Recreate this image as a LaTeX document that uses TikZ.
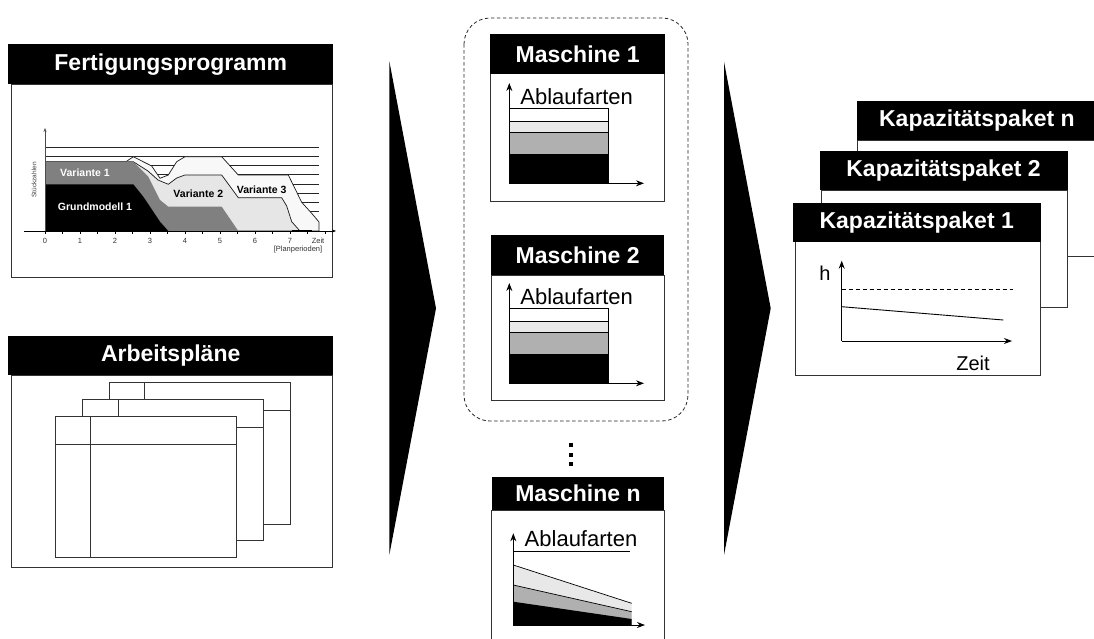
\documentclass[tikz,border=0pt]{standalone}
\usepackage{fontspec}
\setmainfont{Liberation Sans}
\usetikzlibrary{arrows.meta}
\definecolor{vgray}{HTML}{808080}
\definecolor{vlight}{HTML}{E6E6E6}
\definecolor{vpale}{HTML}{F8F8F8}
\definecolor{mlight}{HTML}{E8E8E8}
\definecolor{mgray}{HTML}{B0B0B0}
\definecolor{edge}{HTML}{333333}

% chart inside a machine card, shifted down by #1
\newcommand{\machchart}[1]{%
  \begin{scope}[shift={(0,#1)}]
    \fill[white] (509.3,108.3) rectangle (608.3,121.7);
    \fill[mlight] (509.3,121.7) rectangle (608.3,132.7);
    \fill[mgray] (509.3,132.7) rectangle (608.3,154);
    \fill[black] (509.3,154) rectangle (608.3,183.3);
    \draw[thinline] (509.3,108.3) rectangle (608.3,183.3);
    \draw[thinline] (509.3,121.7) -- (608.3,121.7);
    \draw[thinline] (509.3,132.7) -- (608.3,132.7);
    \draw[axis] (509.3,183.3) -- (509.3,83);
    \draw[axis] (509.3,183.3) -- (644,183.3);
    \node[lbl] (abl#1) at (576.7,97) {Ablaufarten};
  \end{scope}}

\begin{document}
\begin{tikzpicture}[x=1pt,y=-1pt,
  hdr/.style={fill=black,text=white,inner sep=0pt,anchor=north west,
    font=\bfseries\fontsize{23}{23}\selectfont},
  panel/.style={draw=edge,line width=0.9pt,fill=white},
  thinline/.style={draw=black,line width=0.7pt},
  axis/.style={draw=black,line width=0.9pt,-{Stealth[length=8pt,width=6pt]}},
  smallaxis/.style={draw=black!70,line width=0.7pt,-{Stealth[length=4pt,width=3pt]}},
  lbl/.style={inner sep=0pt,font=\fontsize{22}{22}\selectfont},
  chartlbl/.style={inner sep=0pt,font=\bfseries\fontsize{10.5}{10.5}\selectfont},
  ticklbl/.style={inner sep=0pt,font=\fontsize{7.5}{7.5}\selectfont,text=black!80},
  bigarrow/.style={fill=black}]
\useasboundingbox (0,0) rectangle (1094,638);
\clip (0,0) rectangle (1094,638);

% ---------------- Fertigungsprogramm ----------------
\draw[panel] (11,84) rectangle (332,277);
\node[hdr,minimum width=325pt,minimum height=40pt] (fp) at (8,44) {Fertigungsprogramm};

% grid lines
\foreach \yy in {147.3,156.7,165.7,174.7,184,193,202.3,211.3}
  \draw[line width=0.6pt,black!85] (46,\yy) -- (319,\yy);

% Variante 3
\filldraw[fill=vpale,draw=black!90,line width=0.7pt]
  (46,231) -- (46,161.7) -- (126,161.7) -- (133.3,156.7) -- (151.7,166)
  -- (160,178.3) -- (168.3,175) -- (176.7,161.7) -- (185,156.7)
  -- (221.7,156.7) -- (238.3,175) -- (288.3,175) -- (301.7,202.3)
  -- (311.7,213.3) -- (319,222) -- (319,231) -- cycle;
% Variante 2
\filldraw[fill=vlight,draw=black!90,line width=0.7pt]
  (46,231) -- (46,161.7) -- (133.3,161.7) -- (148,171) -- (158,180)
  -- (168.3,184.3) -- (176.7,178) -- (185,175) -- (221.7,175)
  -- (238.3,197.7) -- (281.7,197.7) -- (286.7,206) -- (291.7,221.7)
  -- (300,231) -- cycle;
% Variante 1
\fill[vgray]
  (46,231) -- (46,161.7) -- (133.3,161.7) -- (148.3,176.7) -- (160,200)
  -- (168.3,206.7) -- (221.7,206.7) -- (238.3,231) -- cycle;
% Grundmodell 1
\fill[black]
  (46,231) -- (46,184.3) -- (133.3,184.3) -- (143.3,196.7) -- (160,221.7)
  -- (168.3,231) -- cycle;
\draw[line width=1.6pt] (292,231) -- (312,231);

% axes and ticks
\draw[smallaxis] (45,231) -- (45,128);
\draw[smallaxis,draw=black] (24,231) -- (336,231);
\foreach \i in {0,...,16}
  \draw[line width=0.5pt] (45+17.5*\i,231) -- ++(0,2.5);
\foreach \i in {0,...,7}
  \node[ticklbl] (t\i) at (45+35*\i,240.5) {\i};
\node[ticklbl] (zeitfp) at (318,240.5) {Zeit};
\node[ticklbl] (planp) at (298,250) {[Planperioden]};
\node[inner sep=0pt,rotate=90,font=\fontsize{6.5}{6.5}\selectfont,text=black!75]
  (stk) at (34,180) {Stückzahlen};

\node[chartlbl,text=white] (v1) at (85,172.3) {Variante 1};
\node[chartlbl,text=white] (gm) at (95,206.7) {Grundmodell 1};
\node[chartlbl] (v2) at (198.3,193.3) {Variante 2};
\node[chartlbl] (v3) at (261.7,190) {Variante 3};

% ---------------- Arbeitsplaene ----------------
\draw[panel] (11,375) rectangle (332,567);
\node[hdr,minimum width=325pt,minimum height=39pt] (ap) at (8,336) {Arbeitspläne};
\foreach \sx/\sy [count=\k] in {109.3/382.7,82.7/399.3,55.3/416}{
  \draw[panel] (\sx,\sy) rectangle ++(180.7,141.5);
  \draw[panel] (\sx,\sy+28) -- ++(180.7,0);
  \draw[panel] (\sx+35.3,\sy) -- ++(0,141.5);
}

% ---------------- big arrows ----------------
\fill[bigarrow] (389.3,61) -- (436,308.3) -- (389.3,555) -- cycle;
\fill[bigarrow] (724,61.7) -- (770.7,308.3) -- (724,555) -- cycle;

% ---------------- machines ----------------
\draw[dashed,dash pattern=on 3.5pt off 2.5pt,draw=black!85,line width=0.8pt,
  rounded corners=26pt] (464,18) rectangle (688,421);

\draw[panel] (490,73) rectangle (664,201);
\node[hdr,minimum width=175pt,minimum height=39.5pt] (m1) at (490,34) {Maschine 1};
\machchart{0}

\draw[panel] (491,275) rectangle (664,400);
\node[hdr,minimum width=173pt,minimum height=40pt] (m2) at (491,235) {Maschine 2};
\machchart{200}

% continuation dots
\foreach \yy in {445,454.7,464}
  \fill (568.7,\yy-2) rectangle ++(4,4);

\draw[panel] (491.5,510) rectangle (664,650);
\node[hdr,minimum width=172.5pt,minimum height=33pt] (mn) at (491.5,477) {Maschine n};
\fill[mlight] (513.3,565) -- (631.7,603.3) -- (631.7,625) -- (513.3,625) -- cycle;
\fill[mgray] (513.3,585) -- (631.7,611.7) -- (631.7,625) -- (513.3,625) -- cycle;
\fill[black] (513.3,601.7) -- (631.7,619) -- (631.7,625) -- (513.3,625) -- cycle;
\draw[thinline] (513.3,565) -- (631.7,603.3);
\draw[thinline] (513.3,585) -- (631.7,611.7);
\draw[thinline] (513.3,551) -- (630,551);
\draw[axis] (513.3,625) -- (513.3,533.3);
\draw[axis] (513.3,625) -- (645,625);
\node[lbl] (abln) at (581,538.5) {Ablaufarten};

% ---------------- capacity packages ----------------
\draw[panel] (857,140) rectangle (1110,256.7);
\node[hdr,minimum width=250pt,minimum height=39.3pt] (kn) at (856.7,100.7) {\hspace*{-10pt}Kapazitätspaket n};

\draw[panel] (821.7,190) rectangle (1067.3,307.3);
\node[hdr,minimum width=248pt,minimum height=39pt] (k2) at (819.3,151) {Kapazitätspaket 2};

\draw[panel] (795,241.7) rectangle (1040.7,375);
\node[hdr,minimum width=248.4pt,minimum height=39.4pt] (k1) at (792.3,202.3) {Kapazitätspaket 1};

\draw[axis] (841.7,341) -- (841.7,260.7);
\draw[axis] (841.7,341) -- (1012,341);
\draw[dashed,dash pattern=on 4pt off 3pt,line width=0.8pt] (841.7,289) -- (1013,289);
\draw[line width=0.9pt] (841.7,306.7) -- (1003.3,320);
\node[lbl,font=\fontsize{20}{20}\selectfont] (hk) at (825,273) {h};
\node[lbl,font=\fontsize{20}{20}\selectfont] (zk) at (973,363) {Zeit};

\end{tikzpicture}
\end{document}
